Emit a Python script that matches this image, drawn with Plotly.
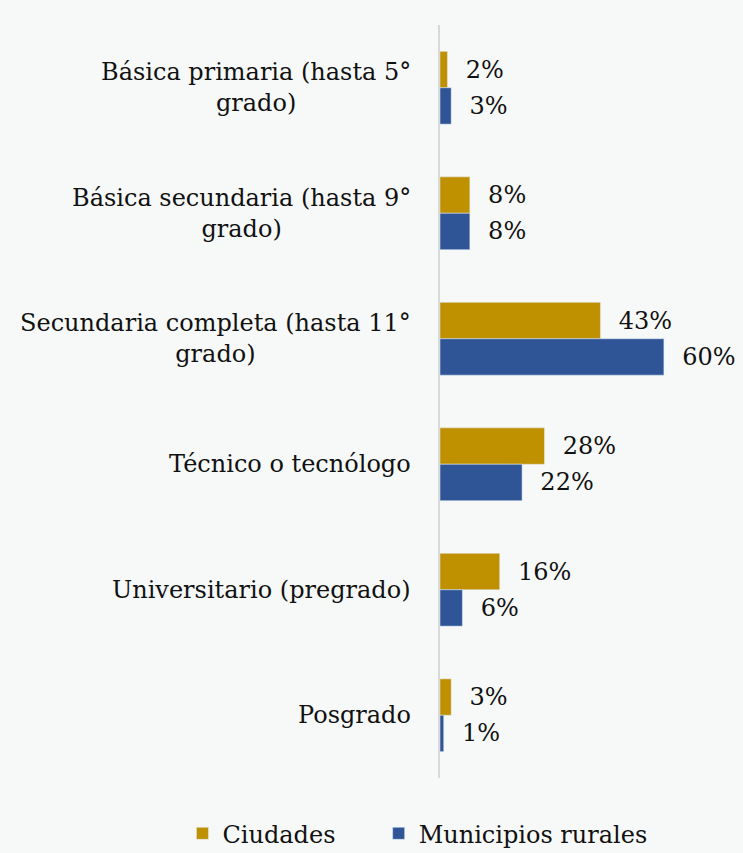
import plotly.graph_objects as go

categorias = [
    "Básica primaria (hasta 5°<br>grado)",
    "Básica secundaria (hasta 9°<br>grado)",
    "Secundaria completa (hasta 11°<br>grado)",
    "Técnico o tecnólogo",
    "Universitario (pregrado)",
    "Posgrado",
]
ciudades = [2, 8, 43, 28, 16, 3]
rurales = [3, 8, 60, 22, 6, 1]

fuente = "DejaVu Serif"
fondo = "#f7f9f9"
sep = "\u00a0" * 5  # espacio extra entre entradas de la leyenda

fig = go.Figure()
fig.add_trace(go.Bar(
    y=categorias, x=ciudades, orientation="h", name="Ciudades" + sep,
    marker=dict(color="#bf9000"),
    text=[f"  {v}%" for v in ciudades], textposition="outside",
    cliponaxis=False,
))
fig.add_trace(go.Bar(
    y=categorias, x=rurales, orientation="h", name="Municipios rurales",
    marker=dict(color="#2f5597"),
    text=[f"  {v}%" for v in rurales], textposition="outside",
    cliponaxis=False,
))

# etiquetas de categoria centradas (como en Excel)
for c in categorias:
    fig.add_annotation(
        x=0, xref="paper", y=c, yref="y", text=c, showarrow=False,
        xanchor="right", align="center", xshift=-27,
        font=dict(family=fuente, size=24, color="#111111"),
    )

fig.update_layout(
    width=743, height=853,
    barmode="group", bargap=0.42, bargroupgap=0,
    paper_bgcolor=fondo, plot_bgcolor=fondo,
    margin=dict(l=440, r=0, t=25, b=75, autoexpand=False),
    font=dict(family=fuente, size=24, color="#111111"),
    xaxis=dict(range=[0, 81.2], visible=False, fixedrange=True),
    yaxis=dict(autorange="reversed", showticklabels=False, showline=True,
               linecolor="#d9d9d9", linewidth=2, ticks="", showgrid=False),
    legend=dict(orientation="h", x=-0.85, xanchor="left",
                y=-0.074, yanchor="middle",
                font=dict(size=24), bgcolor="rgba(0,0,0,0)",
                traceorder="normal"),
    showlegend=True,
)

fig.write_html("out.html", config={"displayModeBar": False},
               post_script="document.body.style.margin='0';")
